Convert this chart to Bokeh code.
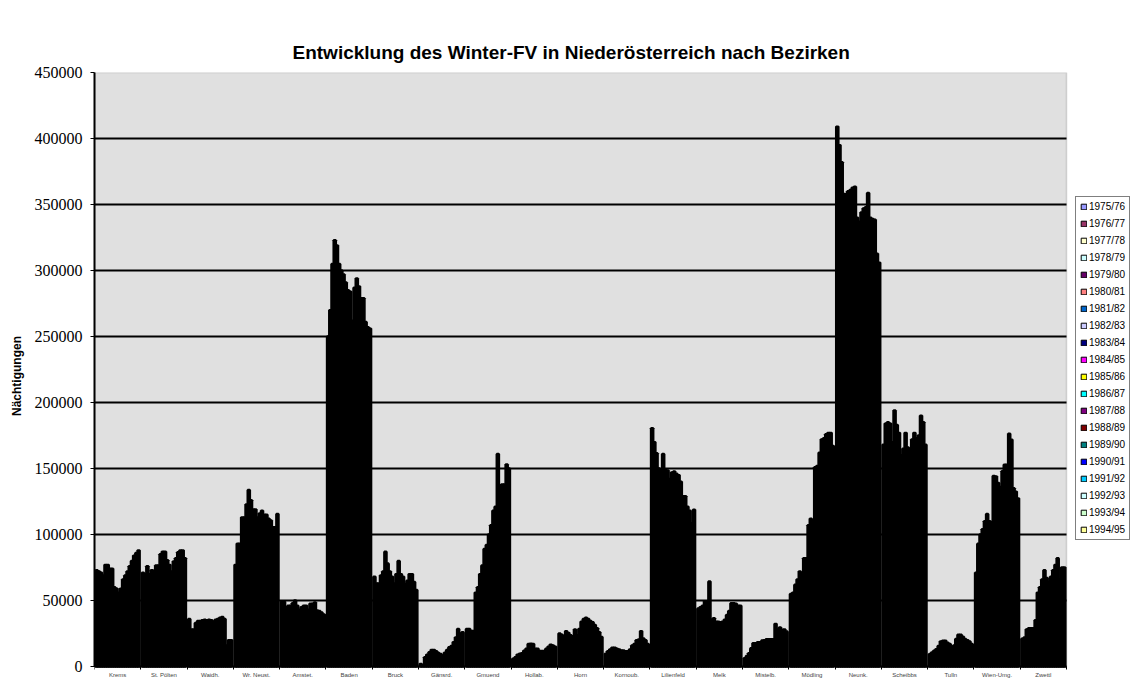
from bokeh.plotting import figure
from bokeh.models import (ColumnDataSource, FixedTicker, Legend, LegendItem,
                          BasicTickFormatter, Range1d, BoxAnnotation)
from bokeh.embed import file_html
from bokeh.resources import INLINE

title_text = "Entwicklung des Winter-FV in Niederösterreich nach Bezirken"
y_label = "Nächtigungen"

seasons = ["1975/76", "1976/77", "1977/78", "1978/79", "1979/80", "1980/81", "1981/82",
           "1982/83", "1983/84", "1984/85", "1985/86", "1986/87", "1987/88", "1988/89",
           "1989/90", "1990/91", "1991/92", "1992/93", "1993/94", "1994/95"]

colors = ["#9999FF", "#993366", "#FFFFCC", "#CCFFFF", "#660066", "#FF8080", "#0066CC",
          "#CCCCFF", "#000080", "#FF00FF", "#FFFF00", "#00FFFF", "#800080", "#800000",
          "#008080", "#0000FF", "#00CCFF", "#CCFFFF", "#CCFFCC", "#FFFF99"]

districts = ["Krems", "St. Pölten", "Waidh.", "Wr. Neust.", "Amstet.", "Baden", "Bruck",
             "Gänsrd.", "Gmuend", "Hollab.", "Horn", "Kornoub.", "Lilienfeld", "Melk",
             "Mistelb.", "Mödling", "Neunk.", "Scheibbs", "Tulln", "Wien-Umg.", "Zwettl"]

krems = [73000, 72000, 71000, 69000, 77000, 77000, 74000, 74000, 60000, 59000,
         56000, 59000, 66000, 69000, 72000, 76000, 80000, 84000, 86000, 88000]
st_poelten = [71000, 70000, 76000, 70000, 73000, 72500, 76500, 76500, 85000, 87000,
              87000, 80500, 77000, 72000, 79500, 82000, 86500, 88000, 88000, 82000]
waidh = [36000, 28000, 28000, 33000, 34500, 34500, 35000, 35500, 35000, 35500,
         35000, 34000, 35500, 36000, 37000, 37500, 36000, 16000, 20000, 20000]
wr_neust = [77000, 93000, 93000, 113000, 113000, 122700, 133800, 126000, 119000, 119000,
            113000, 116000, 118000, 115000, 115000, 112000, 110600, 105500, 105500, 115600]
amstet = [49000, 49000, 45000, 46000, 46000, 48000, 50000, 46000, 43000, 45000,
          46000, 46000, 43000, 47500, 47500, 48500, 42400, 42000, 41000, 39500]
baden = [250000, 270000, 305000, 323000, 319000, 305000, 300000, 297000, 291000, 285000,
         284000, 262000, 287000, 294000, 288000, 279000, 279000, 261000, 257000, 256000]
bruck = [68000, 63000, 63000, 69000, 72000, 87000, 78000, 72000, 68000, 63000,
         70000, 80000, 70000, 68000, 62600, 65000, 70000, 70000, 64000, 58000]
gaensrd = [2000, 1000, 7000, 9000, 10800, 12600, 12600, 11500, 10300, 9500,
           8300, 10500, 12500, 14600, 15500, 18500, 22000, 28500, 25000, 26000]
gmuend = [28500, 28500, 27000, 27000, 56000, 60000, 70000, 76500, 89000, 92000,
          100000, 107000, 118000, 121000, 161000, 133000, 138000, 138000, 153000, 150000]
hollab = [5900, 7100, 9000, 9700, 10000, 12000, 13500, 17000, 17300, 17000,
          13500, 13500, 11700, 11700, 11700, 13500, 15000, 16600, 16000, 15000]
horn = [25000, 24000, 22000, 26800, 25500, 23700, 23000, 28000, 23700, 28500,
        33900, 36000, 37000, 36000, 34500, 33500, 31400, 29000, 26000, 22400]
kornoub = [9700, 11500, 13000, 14300, 14300, 13500, 13000, 12200, 12200, 11500,
           11500, 13000, 16000, 17000, 19900, 20500, 26800, 21200, 19900, 17000]
lilienfeld = [180500, 170000, 161600, 150000, 141000, 161000, 149000, 148500, 142000, 147000,
              147700, 146000, 145000, 140000, 129000, 129000, 121000, 118000, 108600, 118700]
melk = [44000, 45000, 46000, 49200, 49000, 64400, 35400, 36600, 34000, 34000,
        33500, 34000, 35500, 39000, 42000, 48000, 48000, 47500, 46000, 46000]
mistelb = [6300, 8000, 10100, 13900, 17700, 17700, 18400, 18400, 19700, 20000,
           20700, 20700, 20700, 20700, 32300, 28000, 29500, 27800, 28000, 26500]
moedling = [55000, 56000, 62000, 66000, 72000, 65000, 82000, 82000, 107000, 112000,
            110000, 151000, 152000, 162000, 172000, 173000, 176000, 177000, 177000, 167000]
neunk = [409000, 395000, 382000, 358000, 358000, 360000, 361000, 362700, 363500, 340000,
         337000, 344000, 347000, 348000, 358700, 340000, 339000, 338400, 312700, 306000]
scheibbs = [168000, 184000, 185000, 184000, 170000, 194000, 183000, 177000, 160000, 165000,
            177000, 166000, 145000, 172000, 177000, 173000, 175000, 190000, 185000, 168000]
tulln = [9400, 10700, 11900, 13200, 15500, 19000, 19500, 19500, 18000, 17000,
         14500, 16000, 20800, 24100, 24100, 22600, 20800, 20000, 19000, 17000]
wien_umg = [71000, 93000, 100000, 104000, 110000, 115500, 110000, 109500, 144400, 144000,
            139000, 136000, 148000, 152800, 152800, 176400, 171800, 135000, 132500, 127400]
zwettl = [21000, 22000, 28000, 29000, 29000, 29000, 35000, 56000, 60000, 66000,
          73000, 67000, 64000, 68000, 73000, 77000, 82000, 66000, 75000, 75000]

rows = [krems, st_poelten, waidh, wr_neust, amstet, baden, bruck, gaensrd, gmuend, hollab,
        horn, kornoub, lilienfeld, melk, mistelb, moedling, neunk, scheibbs, tulln,
        wien_umg, zwettl]

y_ticks = [0, 50000, 100000, 150000, 200000, 250000, 300000, 350000, 400000, 450000]
y_max = 450000

n_g = len(districts)
n_s = len(seasons)
GW = 2 * n_s + 2          # slot units per district group
X_END = GW * n_g          # right end of the category axis

W, H = 1130, 679
LEFT, TOP = 94, 72
PLOT_W, PLOT_H = 972, 594          # pixel size of the grey plot area
frame_w, frame_h = W - LEFT, H - TOP
x_view_end = X_END * frame_w / PLOT_W           # room on the right for the legend
y_view_start = -y_max * (frame_h - PLOT_H) / PLOT_H   # room below 0 for the district labels

p = figure(width=W, height=H, output_backend="svg", toolbar_location=None,
           x_range=Range1d(0, x_view_end), y_range=Range1d(y_view_start, y_max),
           min_border_left=LEFT, min_border_top=TOP, min_border_right=0, min_border_bottom=0,
           background_fill_color="white", border_fill_color="white")
p.outline_line_color = None

p.title.text = title_text
p.title.align = "left"
p.title.offset = 198
p.title.text_font = "Liberation Sans"
p.title.text_font_size = "19px"
p.title.text_font_style = "bold"
p.title.text_color = "black"
p.title.standoff = 20

# grey plot area with grey outline
p.add_layout(BoxAnnotation(left=0, right=X_END, bottom=0, top=y_max,
                           fill_color="#e0e0e0", fill_alpha=1.0,
                           line_color="#808080", line_width=1.5, level="underlay"))

# horizontal gridlines limited to the plot area
grid_vals = y_ticks[1:-1]
p.segment(x0=[0] * len(grid_vals), x1=[X_END] * len(grid_vals), y0=grid_vals, y1=grid_vals,
          line_color="black", line_width=2)

for s in range(n_s):
    src = ColumnDataSource(dict(x=[g * GW + 2 * s + 2 for g in range(n_g)],
                                top=[rows[g][s] for g in range(n_g)]))
    p.vbar(x="x", top="top", bottom=0, width=2, source=src,
           fill_color=colors[s], line_color="black", line_width=2.4)

# legend swatches (off-range, only used for the legend's 1px-outlined squares)
leg_items = []
for s in range(n_s):
    r = p.vbar(x=[-100], top=[1], width=1, fill_color=colors[s],
               line_color="black", line_width=1)
    leg_items.append(LegendItem(label=seasons[s], renderers=[r]))

legend = Legend(items=leg_items, location=(981, 139), glyph_width=7, glyph_height=7,
                label_text_font="Liberation Sans", label_text_font_size="10px",
                label_text_color="black", label_text_baseline="top",
                label_standoff=2, spacing=6, padding=4, margin=0,
                border_line_color="black", border_line_width=1,
                background_fill_color="white", background_fill_alpha=1.0)
p.add_layout(legend, "center")

centers = [g * GW + GW // 2 for g in range(n_g)]
bounds = [g * GW for g in range(n_g + 1)]
p.xaxis.fixed_location = 0
p.xaxis.bounds = (0, X_END)
p.xaxis.ticker = FixedTicker(ticks=centers, minor_ticks=bounds)
p.xaxis.major_label_overrides = {c: d for c, d in zip(centers, districts)}
p.xaxis.major_tick_out = 0
p.xaxis.major_tick_in = 0
p.xaxis.minor_tick_out = 3
p.xaxis.minor_tick_in = 0
p.xaxis.minor_tick_line_color = "black"
p.xaxis.axis_line_width = 2
p.xaxis.axis_line_color = "black"
p.xaxis.major_label_text_font = "Liberation Sans"
p.xaxis.major_label_text_font_size = "6px"
p.xaxis.major_label_text_color = "#444444"
p.xaxis.major_label_standoff = 2

p.yaxis.bounds = (0, y_max)
p.yaxis.ticker = FixedTicker(ticks=y_ticks)
p.yaxis.formatter = BasicTickFormatter(use_scientific=False)
p.yaxis.major_label_text_font = "Liberation Serif"
p.yaxis.major_label_text_font_size = "16px"
p.yaxis.major_label_text_color = "black"
p.yaxis.major_tick_out = 4
p.yaxis.major_tick_in = 0
p.yaxis.minor_tick_out = 0
p.yaxis.minor_tick_in = 0
p.yaxis.major_tick_line_color = "black"
p.yaxis.axis_line_width = 2
p.yaxis.axis_line_color = "black"
p.yaxis.major_label_standoff = 8
p.yaxis.axis_label = y_label
p.yaxis.axis_label_text_font = "Liberation Sans"
p.yaxis.axis_label_text_font_size = "12px"
p.yaxis.axis_label_text_font_style = "bold"
p.yaxis.axis_label_text_color = "black"
p.yaxis.axis_label_standoff = 8

p.xgrid.visible = False
p.ygrid.visible = False

open("out.html", "w").write(file_html(p, INLINE))
